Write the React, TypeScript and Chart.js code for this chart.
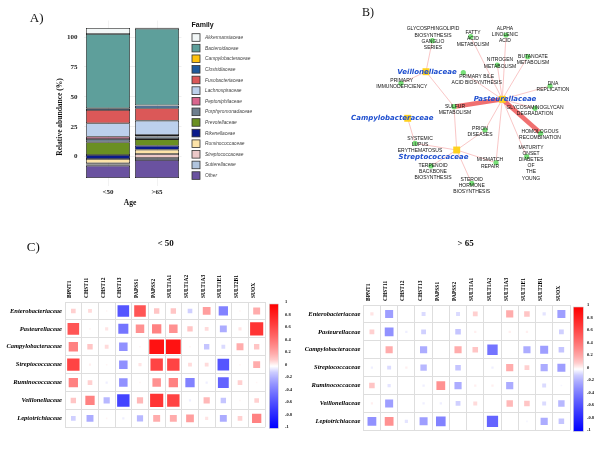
import React, { useEffect, useRef } from 'react';
import { Chart, registerables } from 'chart.js';

Chart.register(...registerables);

const SERIF = '"Liberation Serif", "Times New Roman", serif';
const SANS = '"Liberation Sans", Arial, sans-serif';
const NARROW = '"Liberation Sans Narrow", "Liberation Sans", Arial, sans-serif';
const DEJAVU = '"DejaVu Sans", sans-serif';

// ---------------- Panel A: relative abundance ----------------
const ageGroups = ['<50', '>65'];
const families = [
  'Akkermansiaceae', 'Bacteroidaceae', 'Campylobacteraceae', 'Clostridiaceae',
  'Fusobacteriaceae', 'Lachnospiraceae', 'Peptoniphilaceae', 'Porphyromonadaceae',
  'Prevotellaceae', 'Rikenellaceae', 'Ruminococcaceae', 'Streptococcaceae',
  'Sutterellaceae', 'Other',
];
const abundanceUnder50 = [5.0, 62.1, 0.0, 1.4, 11.1, 11.2, 1.9, 2.8, 10.6, 3.3, 3.6, 1.0, 1.0, 10.3];
const abundanceOver65 = [0.8, 64.1, 0.3, 2.2, 10.4, 11.9, 1.3, 2.1, 5.6, 3.3, 3.6, 3.3, 1.7, 15.0];
const stackBase = -17.8;
const abundanceTicks = [0, 25, 50, 75, 100];
const familyColors = [
  '#f2f7f7', '#5e9f9b', '#ffc20e', '#1f5a9c', '#db5858', '#bcd0ec', '#d9668e',
  '#6e7f8e', '#6a8f22', '#0a1a8a', '#fde3a8', '#ecc8c8', '#b0c4de', '#6a52a0',
];

// ---------------- Panel B: network ----------------
const familyNodes = [
  { name: 'Veillonellaceae', x: 126, y: 71.7, lx: 127, ly: 72 },
  { name: 'Pasteurellaceae', x: 202.3, y: 99.3, lx: 205, ly: 99 },
  { name: 'Campylobacteraceae', x: 107.7, y: 118.3, lx: 92.3, ly: 118.3 },
  { name: 'Streptococcaceae', x: 156.7, y: 150, lx: 133.5, ly: 157.3 },
];
const pathwayNodes = [
  { name: 'GLYCOSPHINGOLIPID\nBIOSYNTHESIS\nGANGLIO\nSERIES', x: 132.3, y: 40.7, lx: 133, ly: 29 },
  { name: 'FATTY\nACID\nMETABOLISM', x: 170.7, y: 36.7, lx: 173, ly: 32.3 },
  { name: 'ALPHA\nLINOLENIC\nACID', x: 206, y: 35, lx: 205, ly: 28.3 },
  { name: 'NITROGEN\nMETABOLISM', x: 197.3, y: 65, lx: 200, ly: 60 },
  { name: 'BUTANOATE\nMETABOLISM', x: 227.7, y: 56.7, lx: 233, ly: 56.7 },
  { name: 'PRIMARY BILE\nACID BIOSYNTHESIS', x: 163.3, y: 72.7, lx: 176.7, ly: 76.7 },
  { name: 'PRIMARY\nIMMUNODEFICIENCY', x: 101, y: 83.3, lx: 101.7, ly: 80.7 },
  { name: 'DNA\nREPLICATION', x: 250, y: 86, lx: 253, ly: 83.3 },
  { name: 'SULFUR\nMETABOLISM', x: 154, y: 106.7, lx: 155, ly: 106.7 },
  { name: 'GLYCOSAMINOGLYCAN\nDEGRADATION', x: 235, y: 108.3, lx: 235, ly: 107.3 },
  { name: 'PRION\nDISEASES', x: 185, y: 130, lx: 180, ly: 128.3 },
  { name: 'HOMOLOGOUS\nRECOMBINATION', x: 240.7, y: 133.3, lx: 240, ly: 131.7 },
  { name: 'SYSTEMIC\nLUPUS\nERYTHEMATOSUS', x: 115, y: 143.3, lx: 120, ly: 138.3 },
  { name: 'MATURITY\nONSET\nDIABETES\nOF\nTHE\nYOUNG', x: 226.7, y: 156.7, lx: 231, ly: 147.3 },
  { name: 'MISMATCH\nREPAIR', x: 196, y: 162.7, lx: 190, ly: 160 },
  { name: 'TERPENOID\nBACKBONE\nBIOSYNTHESIS', x: 131, y: 166, lx: 133, ly: 165.7 },
  { name: 'STEROID\nHORMONE\nBIOSYNTHESIS', x: 171.7, y: 183.3, lx: 171.7, ly: 179.3 },
];
// [family, pathway index, weight]
const edges: [string, number, number][] = [
  ['Veillonellaceae', 0, 1], ['Veillonellaceae', 6, 1], ['Veillonellaceae', 8, 1],
  ['Pasteurellaceae', 1, 1], ['Pasteurellaceae', 2, 1], ['Pasteurellaceae', 3, 1],
  ['Pasteurellaceae', 4, 1], ['Pasteurellaceae', 5, 1], ['Pasteurellaceae', 7, 1],
  ['Pasteurellaceae', 8, 5], ['Pasteurellaceae', 9, 1], ['Pasteurellaceae', 11, 5],
  ['Pasteurellaceae', 10, 1], ['Pasteurellaceae', 13, 1], ['Pasteurellaceae', 14, 1],
  ['Streptococcaceae', 8, 1], ['Streptococcaceae', 12, 1], ['Streptococcaceae', 10, 1],
  ['Streptococcaceae', 14, 1], ['Streptococcaceae', 16, 1], ['Streptococcaceae', 15, 1],
  ['Campylobacteraceae', 12, 1],
];

// ---------------- Panel C: correlation matrices ----------------
const taxa = [
  'Enterobacteriaceae', 'Pasteurellaceae', 'Campylobacteraceae', 'Streptococcaceae',
  'Ruminococcaceae', 'Veillonellaceae', 'Leptotrichiaceae',
];
const genes = ['BPNT1', 'CHST11', 'CHST12', 'CHST13', 'PAPSS1', 'PAPSS2', 'SULT1A1', 'SULT1A2', 'SULT1A3', 'SULT1E1', 'SULT2B1', 'SUOX'];
const corrUnder50 = [
  [0.09, 0.06, 0.01, -0.56, 0.56, 0.12, 0.12, -0.09, 0.25, -0.36, 0.01, 0.2],
  [0.56, 0.01, 0.04, -0.42, 0.3, 0.36, 0.3, 0.12, 0.06, -0.2, 0.04, 0.72],
  [0.36, 0.12, 0.06, -0.3, 0.01, 0.9, 0.9, 0.01, -0.12, -0.06, 0.2, 0.12],
  [0.64, 0.02, 0.01, -0.3, 0.04, 0.64, 0.64, 0.06, 0.06, -0.56, 0.01, 0.2],
  [0.36, 0.09, -0.02, -0.3, 0.01, 0.3, 0.36, -0.36, -0.02, -0.49, 0.09, 0.01],
  [0.12, 0.36, -0.16, -0.64, 0.16, 0.72, 0.64, -0.02, 0.16, -0.12, 0.01, 0.09],
  [-0.09, -0.2, 0.01, -0.02, -0.16, 0.2, 0.2, 0.25, 0.04, -0.2, 0.09, 0.36],
];
const corrOver65 = [
  [0.04, -0.25, 0.0, -0.06, 0.0, -0.06, 0.09, 0.0, 0.2, 0.12, -0.04, -0.25],
  [0.09, -0.3, -0.02, -0.09, 0.0, -0.12, 0.02, 0.0, 0.02, 0.02, 0.0, -0.09],
  [0.0, 0.2, 0.0, -0.2, 0.0, 0.2, 0.12, -0.42, 0.0, -0.2, -0.25, -0.12],
  [-0.02, -0.06, 0.02, -0.16, 0.0, -0.12, 0.0, -0.02, 0.2, 0.09, -0.2, -0.25],
  [0.12, -0.04, 0.0, -0.02, 0.3, -0.2, 0.02, 0.02, -0.2, 0.0, -0.06, -0.01],
  [0.02, -0.25, 0.0, -0.02, -0.02, -0.09, 0.06, 0.0, 0.16, 0.12, -0.06, -0.16],
  [-0.3, 0.3, -0.04, -0.25, -0.36, 0.0, 0.0, -0.49, 0.0, -0.01, -0.2, -0.12],
];
const colorbarMin = -1;
const colorbarMax = 1;
const colorbarStep = 0.2;

// ---------------- helpers ----------------
function corrColor(v: number) {
  const t = Math.pow(Math.min(1, Math.abs(v)), 0.7);
  const c = Math.round(255 * (1 - t));
  return v >= 0 ? `rgb(255,${c},${c})` : `rgb(${c},${c},255)`;
}

function stackSegments(values: number[]) {
  const segs: [number, number][] = new Array(values.length);
  let start = stackBase;
  for (let i = values.length - 1; i >= 0; i--) {
    segs[i] = [start, start + values[i]];
    start += values[i];
  }
  return segs;
}

function buildA(): any {
  const segU = stackSegments(abundanceUnder50);
  const segO = stackSegments(abundanceOver65);
  const decor = {
    id: 'panelADecor',
    afterDraw(chart: any) {
      const ctx = chart.ctx;
      ctx.save();
      ctx.fillStyle = '#111';
      ctx.textAlign = 'center';
      ctx.textBaseline = 'middle';
      ctx.font = `bold 7.5px ${SERIF}`;
      ctx.save();
      ctx.translate(60, 117);
      ctx.rotate(-Math.PI / 2);
      ctx.fillText('Relative abundance (%)', 0, 0);
      ctx.restore();
      ctx.fillText('Age', 130, 203);
      // legend
      ctx.textAlign = 'left';
      ctx.font = `bold 7px ${SANS}`;
      ctx.fillText('Family', 191.5, 25.5);
      chart.data.datasets.forEach((ds: any, i: number) => {
        const y = 33.7 + i * 10.62;
        ctx.fillStyle = ds.backgroundColor;
        ctx.fillRect(192, y, 8, 7.6);
        ctx.strokeStyle = '#333';
        ctx.lineWidth = 0.8;
        ctx.strokeRect(192, y, 8, 7.6);
        ctx.fillStyle = '#444';
        ctx.font = `italic 4.8px ${SANS}`;
        ctx.fillText(ds.label, 205, y + 4);
      });
      ctx.restore();
    },
  };
  return {
    type: 'bar',
    data: {
      labels: ageGroups,
      datasets: families.map((f, i) => ({
        label: f,
        data: [segU[i], segO[i]],
        backgroundColor: familyColors[i],
        borderColor: '#1b1b1b',
        borderWidth: 0.8,
        borderSkipped: false,
        grouped: false,
        barPercentage: 0.9,
        categoryPercentage: 1,
      })),
    },
    options: {
      responsive: false,
      animation: false,
      events: [],
      layout: { padding: { left: 0, right: 118.5, top: 20.5, bottom: 0 }, autoPadding: false },
      plugins: { legend: { display: false }, tooltip: { enabled: false } },
      scales: {
        x: {
          type: 'category',
          grid: { offset: false, color: '#efefef', lineWidth: 0.8, drawTicks: false },
          border: { display: false },
          ticks: { font: { family: SERIF, size: 7, weight: 'bold' }, color: '#222', padding: 2 },
          afterFit: (s: any) => { s.height = 29.5; },
        },
        y: {
          type: 'linear',
          min: -24.1,
          max: 113.8,
          afterBuildTicks: (s: any) => { s.ticks = abundanceTicks.map((v) => ({ value: v })); },
          grid: { color: '#ececec', lineWidth: 0.8, drawTicks: false },
          border: { display: false },
          ticks: { font: { family: SERIF, size: 7, weight: 'bold' }, color: '#222', padding: 6 },
          afterFit: (s: any) => { s.width = 83.5; },
        },
      },
    },
    plugins: [decor],
  };
}

function buildB(): any {
  const famByName: Record<string, any> = {};
  familyNodes.forEach((n) => { famByName[n.name] = n; });
  const labels = {
    id: 'networkLabels',
    afterDatasetsDraw(chart: any) {
      const ctx = chart.ctx;
      const xs = chart.scales.x;
      const ys = chart.scales.y;
      ctx.save();
      ctx.textAlign = 'center';
      ctx.textBaseline = 'middle';
      ctx.fillStyle = '#111';
      ctx.font = `5px ${NARROW}`;
      pathwayNodes.forEach((p) => {
        p.name.split('\n').forEach((line, k) => {
          ctx.fillText(line, xs.getPixelForValue(p.lx), ys.getPixelForValue(p.ly + k * 6.2));
        });
      });
      ctx.fillStyle = '#1f4fcf';
      ctx.font = `italic bold 7px ${DEJAVU}`;
      familyNodes.forEach((f) => {
        ctx.fillText(f.name, xs.getPixelForValue(f.lx), ys.getPixelForValue(f.ly));
      });
      ctx.restore();
    },
  };
  const edgeSets = edges.map(([fam, pi, w]) => {
    const f = famByName[fam];
    const p = pathwayNodes[pi];
    const thick = w > 1;
    return {
      data: [{ x: f.x, y: f.y }, { x: p.x, y: p.y }],
      showLine: true,
      borderColor: thick ? 'rgba(238,96,96,0.9)' : 'rgba(248,188,188,0.85)',
      borderWidth: thick ? 4.5 : 1,
      pointRadius: 0,
      order: thick ? 2 : 3,
    };
  });
  return {
    type: 'scatter',
    data: {
      datasets: [
        {
          data: familyNodes.map((n) => ({ x: n.x, y: n.y })),
          pointStyle: 'rect',
          pointRadius: 4.9,
          backgroundColor: '#ffd21f',
          borderWidth: 0,
          order: 0,
        },
        {
          data: pathwayNodes.map((n) => ({ x: n.x, y: n.y })),
          pointStyle: 'circle',
          pointRadius: 2.6,
          backgroundColor: '#78e078',
          borderWidth: 0,
          order: 1,
        },
        ...edgeSets,
      ],
    },
    options: {
      responsive: false,
      animation: false,
      events: [],
      layout: { padding: 0, autoPadding: false },
      plugins: { legend: { display: false }, tooltip: { enabled: false } },
      scales: {
        x: { type: 'linear', display: false, min: 0, max: 300 },
        y: { type: 'linear', display: false, min: 0, max: 200, reverse: true },
      },
    },
    plugins: [labels],
  };
}

function buildHeat(matrix: number[][], cfg: any): any {
  const cells: any[] = [];
  taxa.forEach((t, i) => genes.forEach((g, j) => cells.push({ x: g, y: t, v: matrix[i][j] })));
  const colorbar = {
    id: 'colorbar',
    afterDraw(chart: any) {
      const ctx = chart.ctx;
      const { top, bottom, right } = chart.chartArea;
      const x0 = right + cfg.cbOffset;
      const y0 = top + 2;
      const h = bottom - top - 1;
      const g = ctx.createLinearGradient(0, y0, 0, y0 + h);
      for (let k = 0; k <= 20; k++) {
        const v = colorbarMax - (k / 20) * (colorbarMax - colorbarMin);
        g.addColorStop(k / 20, corrColor(v));
      }
      ctx.save();
      ctx.fillStyle = g;
      ctx.fillRect(x0, y0, cfg.cbWidth, h);
      ctx.strokeStyle = '#d0d0d0';
      ctx.lineWidth = 0.6;
      ctx.strokeRect(x0, y0, cfg.cbWidth, h);
      ctx.restore();
    },
  };
  const gridColor = '#dedede';
  return {
    type: 'scatter',
    data: {
      datasets: [
        {
          data: cells,
          pointStyle: 'rect',
          borderWidth: 0,
          backgroundColor: (c: any) => corrColor(c.raw ? c.raw.v : 0),
          pointRadius: (c: any) => {
            const v = c.raw ? c.raw.v : 0;
            const xs = c.chart.scales.x;
            const ys = c.chart.scales.y;
            if (!xs || !ys || !xs.width) return 0;
            const cell = Math.min(xs.width / genes.length, ys.height / taxa.length);
            const side = Math.sqrt(Math.abs(v)) * cell * 0.93;
            return side / Math.SQRT2;
          },
        },
      ],
    },
    options: {
      responsive: false,
      animation: false,
      events: [],
      layout: { padding: { left: 0, top: 0, right: cfg.padRight, bottom: cfg.padBottom }, autoPadding: false },
      plugins: { legend: { display: false }, tooltip: { enabled: false } },
      scales: {
        x: {
          type: 'category',
          labels: genes,
          position: 'top',
          offset: true,
          grid: { offset: true, color: gridColor, lineWidth: 1, drawTicks: false },
          border: { color: gridColor },
          ticks: {
            autoSkip: false, minRotation: 90, maxRotation: 90, labelOffset: 3.3,
            font: { family: SERIF, size: 5.5, weight: 'bold' }, color: '#000', padding: 4,
          },
          afterFit: (s: any) => { s.height = cfg.xHeight; },
        },
        y: {
          type: 'category',
          labels: taxa,
          offset: true,
          grid: { offset: true, color: gridColor, lineWidth: 1, drawTicks: false },
          border: { color: gridColor },
          ticks: {
            autoSkip: false,
            font: { family: SERIF, size: 6.5, weight: 'bold', style: 'italic' }, color: '#000', padding: 3,
          },
          afterFit: (s: any) => { s.width = cfg.yWidth; },
        },
        cb: {
          type: 'linear',
          axis: 'y',
          position: 'right',
          min: colorbarMin,
          max: colorbarMax,
          grid: { display: false, drawTicks: false },
          border: { display: false },
          ticks: {
            stepSize: colorbarStep,
            font: { family: SERIF, size: 4.5, weight: 'bold' },
            color: '#111',
            padding: cfg.cbPad,
            callback: (v: number) => {
              const r = Math.round(v * 10) / 10;
              return Math.abs(r) < 1e-9 ? '0' : String(r);
            },
          },
          afterFit: (s: any) => { s.width = 30; },
        },
      },
    },
    plugins: [colorbar],
  };
}

const textStyle = (x: number, y: number, size: number, bold = false): React.CSSProperties => ({
  position: 'absolute',
  left: x,
  top: y,
  transform: 'translate(-50%, -50%)',
  fontFamily: SERIF,
  fontSize: size,
  fontWeight: bold ? 'bold' : 'normal',
  lineHeight: 1,
  whiteSpace: 'nowrap',
  color: '#111',
});

export default function App() {
  const aRef = useRef<HTMLCanvasElement>(null);
  const bRef = useRef<HTMLCanvasElement>(null);
  const c1Ref = useRef<HTMLCanvasElement>(null);
  const c2Ref = useRef<HTMLCanvasElement>(null);

  useEffect(() => {
    const charts: Chart[] = [];
    charts.push(new Chart(aRef.current as HTMLCanvasElement, buildA()));
    charts.push(new Chart(bRef.current as HTMLCanvasElement, buildB()));
    charts.push(new Chart(c1Ref.current as HTMLCanvasElement, buildHeat(corrUnder50, {
      xHeight: 77, yWidth: 65, padRight: 5, padBottom: 9, cbOffset: 4.3, cbWidth: 9, cbPad: 20,
    })));
    charts.push(new Chart(c2Ref.current as HTMLCanvasElement, buildHeat(corrOver65, {
      xHeight: 80, yWidth: 63.3, padRight: 0, padBottom: 5, cbOffset: 3.3, cbWidth: 10, cbPad: 17,
    })));
    return () => charts.forEach((c) => c.destroy());
  }, []);

  return (
    <div style={{ position: 'fixed', left: 0, top: 0, width: 600, height: 450, background: '#fff', overflow: 'hidden' }}>
      <canvas ref={aRef} width={300} height={215} style={{ position: 'absolute', left: 0, top: 0 }} />
      <canvas ref={bRef} width={300} height={200} style={{ position: 'absolute', left: 300, top: 0 }} />
      <canvas ref={c1Ref} width={300} height={225} style={{ position: 'absolute', left: 0, top: 225 }} />
      <canvas ref={c2Ref} width={300} height={225} style={{ position: 'absolute', left: 300, top: 225 }} />
      <div style={textStyle(36.7, 16.7, 13)}>A)</div>
      <div style={textStyle(368, 11.7, 12)}>B)</div>
      <div style={textStyle(33.3, 246, 13)}>C)</div>
      <div style={textStyle(165.7, 243.3, 9, true)}>&lt; 50</div>
      <div style={textStyle(465.7, 242.7, 9, true)}>&gt; 65</div>
    </div>
  );
}
